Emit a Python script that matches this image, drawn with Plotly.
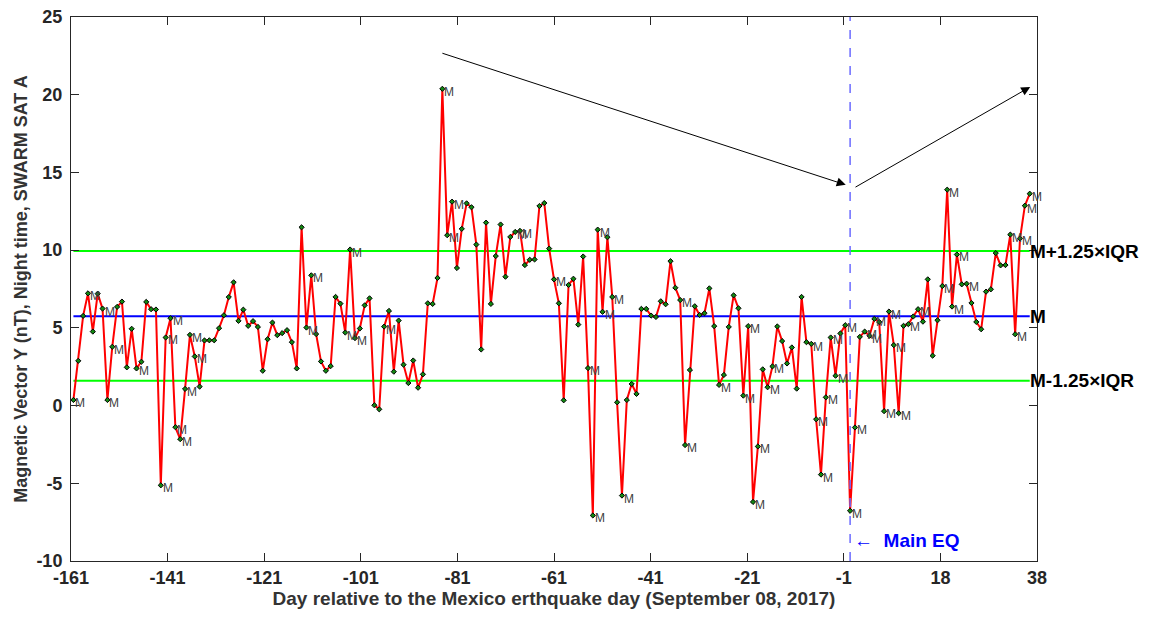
import numpy as np
import plotly.graph_objects as go

# ---------------- data ----------------
days = list(range(-161, 37))
values = [
    0.36, 2.88, 5.77, 7.22, 4.76, 7.2, 6.24, 0.36, 3.78, 6.35,
    6.69, 2.46, 4.94, 2.39, 2.82, 6.67, 6.2, 6.18, -5.13, 4.38,
    5.62, -1.39, -2.16, 1.07, 4.55, 3.16, 1.22, 4.19, 4.2, 4.2,
    4.98, 5.81, 6.98, 7.93, 5.45, 6.17, 5.13, 5.43, 5.06, 2.24,
    4.27, 5.34, 4.53, 4.66, 4.85, 4.08, 2.39, 11.47, 5.02, 8.38,
    4.6, 2.84, 2.24, 2.54, 6.99, 6.56, 4.7, 10.04, 4.34, 4.96,
    6.45, 6.9, 0.02, -0.24, 5.08, 6.09, 2.18, 5.47, 2.63, 1.45,
    2.9, 1.15, 2.01, 6.58, 6.54, 8.21, 20.38, 10.96, 13.12, 8.85,
    11.37, 13.01, 12.76, 10.36, 3.61, 11.77, 6.54, 9.62, 11.65, 8.29,
    10.85, 11.17, 11.24, 9.04, 9.38, 9.4, 12.84, 13.03, 10.1, 8.12,
    6.58, 0.34, 7.76, 8.16, 5.21, 9.59, 2.41, -7.07, 11.32, 6.03,
    10.83, 6.99, 0.21, -5.79, 0.36, 1.39, 0.75, 6.22, 6.22, 5.79,
    5.7, 6.71, 6.52, 9.29, 7.58, 6.79, -2.54, 2.29, 6.39, 5.83,
    5.94, 7.54, 5.11, 1.33, 1.97, 5.06, 7.09, 6.26, 0.64, 5.11,
    -6.2, -2.63, 2.33, 1.18, 2.52, 5.09, 4.15, 2.71, 3.74, 1.09,
    6.99, 4.08, 3.97, -0.88, -4.44, 0.53, 4.38, 1.92, 4.64, 5.17,
    -6.77, -1.41, 4.42, 4.76, 4.49, 5.58, 5.38, -0.36, 6.05, 3.89,
    -0.49, 5.13, 5.24, 5.73, 6.2, 5.4, 8.12, 3.21, 5.49, 7.69,
    13.89, 6.37, 9.72, 7.8, 7.84, 6.6, 5.38, 4.91, 7.33, 7.48,
    9.81, 9.02, 9.04, 11.0, 4.59, 10.75, 12.86, 13.63,
]
# 1-based indices of points carrying an "M" label
m_label_points = [1, 4, 7, 8, 9, 14, 19, 20, 21, 22, 23, 24, 25, 26, 49, 50, 57, 58, 59, 65,
                  77, 78, 79, 92, 93, 100, 107, 108, 109, 110, 112, 114, 126, 127,
                  134, 139, 140, 141, 142, 144, 145, 153, 154, 155, 156, 157, 158, 160,
                  161, 162, 164, 165, 166, 168, 169, 170, 171, 173, 175, 180, 181, 182,
                  183, 185, 194, 195, 196, 197, 198]

M_LEVEL = 5.75
UPPER = 9.94
LOWER = 1.6
EQ_DAY = -1

x_tick_labels = ["-161", "-141", "-121", "-101", "-81", "-61", "-41", "-21", "-1", "18", "38"]
y_tick_vals = [-10, -5, 0, 5, 10, 15, 20, 25]

X_RANGE = [-161.5, 37.5]
Y_RANGE = [-10, 25]

# arrows (tail -> head) in data units
arrow1 = dict(tail=(-85.3, 22.7), head=(-1.9, 14.2))
arrow2 = dict(tail=(-0.2, 14.0), head=(36.1, 20.5))

FONT = "Liberation Sans, Arial, sans-serif"

fig = go.Figure()

# reference levels
for lvl, col in [(UPPER, "#00ff00"), (LOWER, "#00ff00"), (M_LEVEL, "#0000ff")]:
    fig.add_trace(go.Scatter(x=[days[0], days[-1]], y=[lvl, lvl], mode="lines",
                             line=dict(color=col, width=2), hoverinfo="skip",
                             showlegend=False))

# main series
fig.add_trace(go.Scatter(x=days, y=values, mode="lines+markers",
                         line=dict(color="#ff0000", width=2),
                         marker=dict(symbol="diamond", size=4, color="#118811",
                                     line=dict(color="black", width=1)),
                         showlegend=False))

annotations = []
for i in m_label_points:
    annotations.append(dict(x=days[i - 1], y=values[i - 1], text="M", showarrow=False,
                            xanchor="left", yanchor="middle", xshift=0, yshift=-3,
                            font=dict(family=FONT, size=12, color="#404040")))

for lvl, txt in [(UPPER, "M+1.25\u00d7IQR"), (M_LEVEL, "M"), (LOWER, "M-1.25\u00d7IQR")]:
    annotations.append(dict(x=days[-1], y=lvl, text="<b>" + txt + "</b>", showarrow=False,
                            xanchor="left", yanchor="middle", xshift=-2,
                            font=dict(family=FONT, size=19, color="black")))

annotations.append(dict(x=EQ_DAY, y=-8.65, text="\u2190  <b>Main EQ</b>", showarrow=False,
                        xanchor="left", yanchor="middle", xshift=2,
                        font=dict(family=FONT, size=19, color="#0000ff")))

for a in (arrow1, arrow2):
    annotations.append(dict(x=a["head"][0], y=a["head"][1], ax=a["tail"][0], ay=a["tail"][1],
                            xref="x", yref="y", axref="x", ayref="y", text="",
                            showarrow=True, arrowhead=2, arrowsize=1.8, arrowwidth=1,
                            arrowcolor="black"))

shapes = [dict(type="line", x0=EQ_DAY, x1=EQ_DAY, y0=Y_RANGE[0], y1=Y_RANGE[1],
               xref="x", yref="y", line=dict(color="#6b6bff", width=1.5, dash="dash"))]

# page body has an 8px margin, so the figure is sized/offset to compensate
fig.update_layout(
    width=1149, height=616,
    margin=dict(l=63, r=120, t=9, b=63),
    paper_bgcolor="white", plot_bgcolor="white",
    font=dict(family=FONT, color="#262626"),
    annotations=annotations, shapes=shapes,
    xaxis=dict(range=X_RANGE, tickvals=list(np.linspace(X_RANGE[0], X_RANGE[1], 11)),
               ticktext=["<b>" + t + "</b>" for t in x_tick_labels],
               ticks="inside", ticklen=8, tickcolor="#262626", automargin=False,
               showline=True, linecolor="#262626", linewidth=1, mirror="ticks",
               showgrid=False, zeroline=False, ticklabeloverflow="allow",
               tickfont=dict(size=18, family=FONT, color="#262626"),
               title=dict(text="<b>Day relative to the Mexico erthquake day (September 08, 2017)</b>",
                          font=dict(size=19, family=FONT, color="#333333"), standoff=4)),
    yaxis=dict(range=Y_RANGE, tickvals=y_tick_vals,
               ticktext=["<b>" + str(v) + "</b>" for v in y_tick_vals],
               ticks="inside", ticklen=8, tickcolor="#262626", automargin=False,
               showline=True, linecolor="#262626", linewidth=1, mirror="ticks",
               showgrid=False, zeroline=False, ticklabelstandoff=4, ticklabeloverflow="allow",
               tickfont=dict(size=18, family=FONT, color="#262626"),
               title=dict(text="<b>Magnetic Vector Y (nT), Night time, SWARM SAT A</b>",
                          font=dict(size=18, family=FONT, color="#333333"), standoff=4)),
)

fig.write_html("out.html")
